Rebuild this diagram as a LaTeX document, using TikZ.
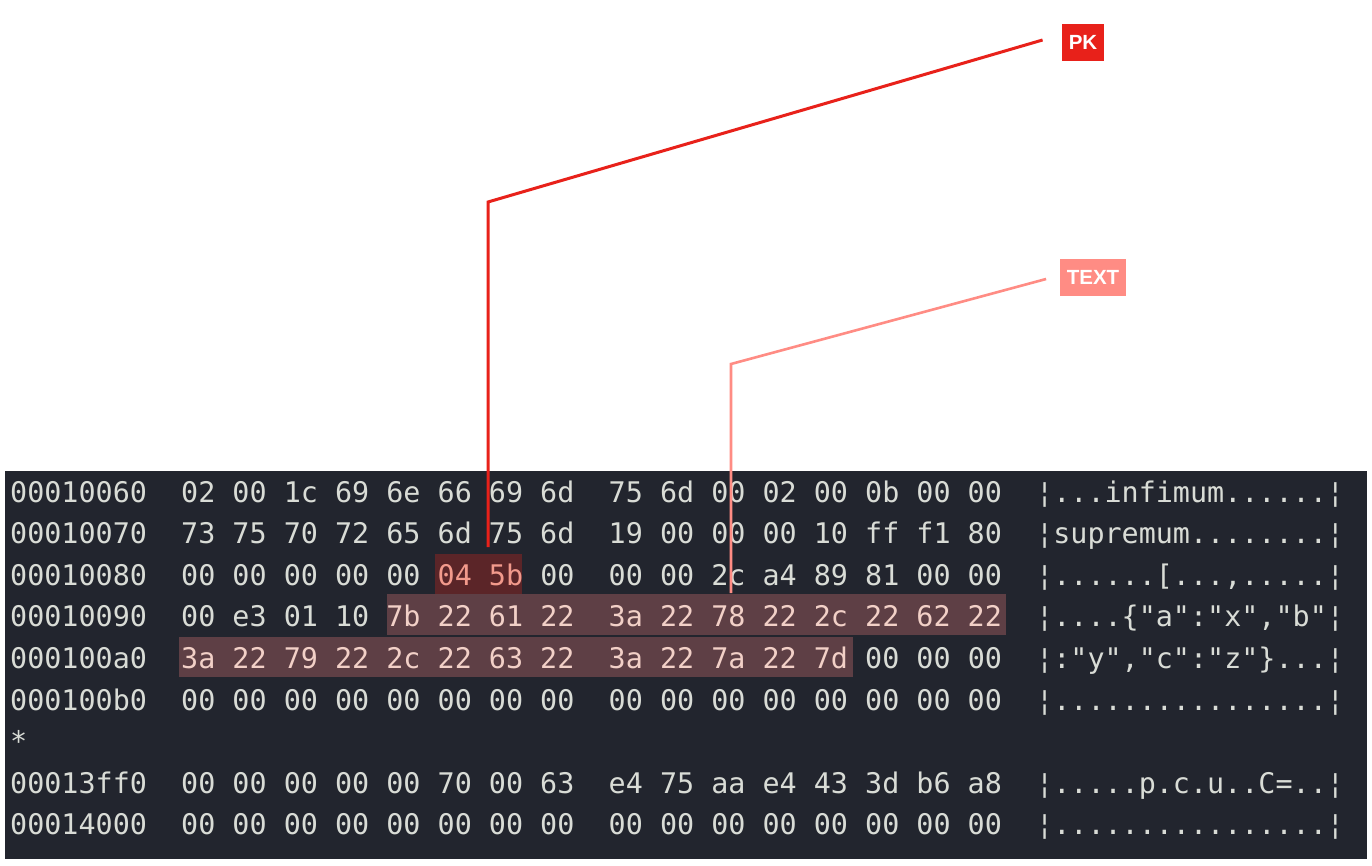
\documentclass[tikz,border=0pt]{standalone}
\usepackage{fontspec}
\usepackage{xcolor}
\usepackage{tikz}
\setmainfont{Liberation Sans}
\newfontfamily\hexfont{DejaVu Sans Mono}
\definecolor{termbg}{HTML}{22252E}
\definecolor{termfg}{HTML}{D9DCD6}
\definecolor{pkred}{HTML}{E8211A}
\definecolor{textpink}{HTML}{FF8C84}
\definecolor{pkmark}{HTML}{5B2528}
\definecolor{textmark}{HTML}{5E3F45}
\definecolor{pkfg}{HTML}{F29A8C}
\definecolor{textfg}{HTML}{F2D0C7}
\tikzset{dump/.style={anchor=base west,inner sep=0pt,text=termfg,
    font=\hexfont\fontsize{28.4}{34}\selectfont},
    hlbox/.style={inner sep=0pt,outer sep=0pt,draw=none},
    tag/.style={inner xsep=7pt,inner ysep=0pt,minimum height=37pt,text=white,
    text height=14.7pt,text depth=0pt,font=\bfseries\fontsize{20.5}{24}\selectfont},
    pkline/.style={draw=pkred,line width=3pt},
    textline/.style={draw=textpink,line width=2.6pt}}
\newcommand{\hexline}[5]{%
  \node[dump] (off#1) at (10,{460.4+41.6*#1}) {#2};
  \node[dump] (lo#1) at (181,{460.4+41.6*#1}) {#3};
  \node[dump] (hi#1) at (608.5,{460.4+41.6*#1}) {#4};
  \node[dump] (asc#1) at (1036,{460.4+41.6*#1}) {¦#5¦};}

\begin{document}
\begin{tikzpicture}[x=1pt,y=-1pt]
\useasboundingbox (0,0) rectangle (1372,866);
\fill[white] (0,0) rectangle (1372,866);
\fill[termbg] (5,471) rectangle (1367,859);
\node[hlbox,fill=pkmark,minimum width=87pt,minimum height=40pt] (pkhl) at (478.5,574) {};
\node[hlbox,fill=textmark,minimum width=619pt,minimum height=41pt] (txthla) at (696.5,614.5) {};
\node[hlbox,fill=textmark,minimum width=674pt,minimum height=40pt] (txthlb) at (516,657) {};
\hexline{1}{00010060}{02 00 1c 69 6e 66 69 6d}{75 6d 00 02 00 0b 00 00}{...infimum......}
\hexline{2}{00010070}{73 75 70 72 65 6d 75 6d}{19 00 00 00 10 ff f1 80}{supremum........}
\hexline{3}{00010080}{00 00 00 00 00 \textcolor{pkfg}{04 5b} 00}{00 00 2c a4 89 81 00 00}{......[...,.....}
\hexline{4}{00010090}{00 e3 01 10 \textcolor{textfg}{7b 22 61 22}}{\textcolor{textfg}{3a 22 78 22 2c 22 62 22}}{....\{"a":"x","b"}
\hexline{5}{000100a0}{\textcolor{textfg}{3a 22 79 22 2c 22 63 22}}{\textcolor{textfg}{3a 22 7a 22 7d} 00 00 00}{:"y","c":"z"\}...}
\hexline{6}{000100b0}{00 00 00 00 00 00 00 00}{00 00 00 00 00 00 00 00}{................}
\node[dump] (star) at (10,{460.4+41.6*7}) {*};
\hexline{8}{00013ff0}{00 00 00 00 00 70 00 63}{e4 75 aa e4 43 3d b6 a8}{.....p.c.u..C=..}
\hexline{9}{00014000}{00 00 00 00 00 00 00 00}{00 00 00 00 00 00 00 00}{................}
\node[tag,fill=pkred] (pk) at (1083,42.5) {PK};
\node[tag,fill=textpink] (txt) at (1093,277.5) {TEXT};
\coordinate (pkbend) at (488,202);
\coordinate (txtbend) at (731,364);
\draw[pkline,shorten <=7pt] (pkbend |- pkhl.north) -- (pkbend) -- ([xshift=-19pt,yshift=2.5pt]pk.west);
\draw[textline,shorten <=1pt] (txtbend |- txthla.north) -- (txtbend) -- ([xshift=-13.5pt,yshift=-1.5pt]txt.west);
\end{tikzpicture}
\end{document}
